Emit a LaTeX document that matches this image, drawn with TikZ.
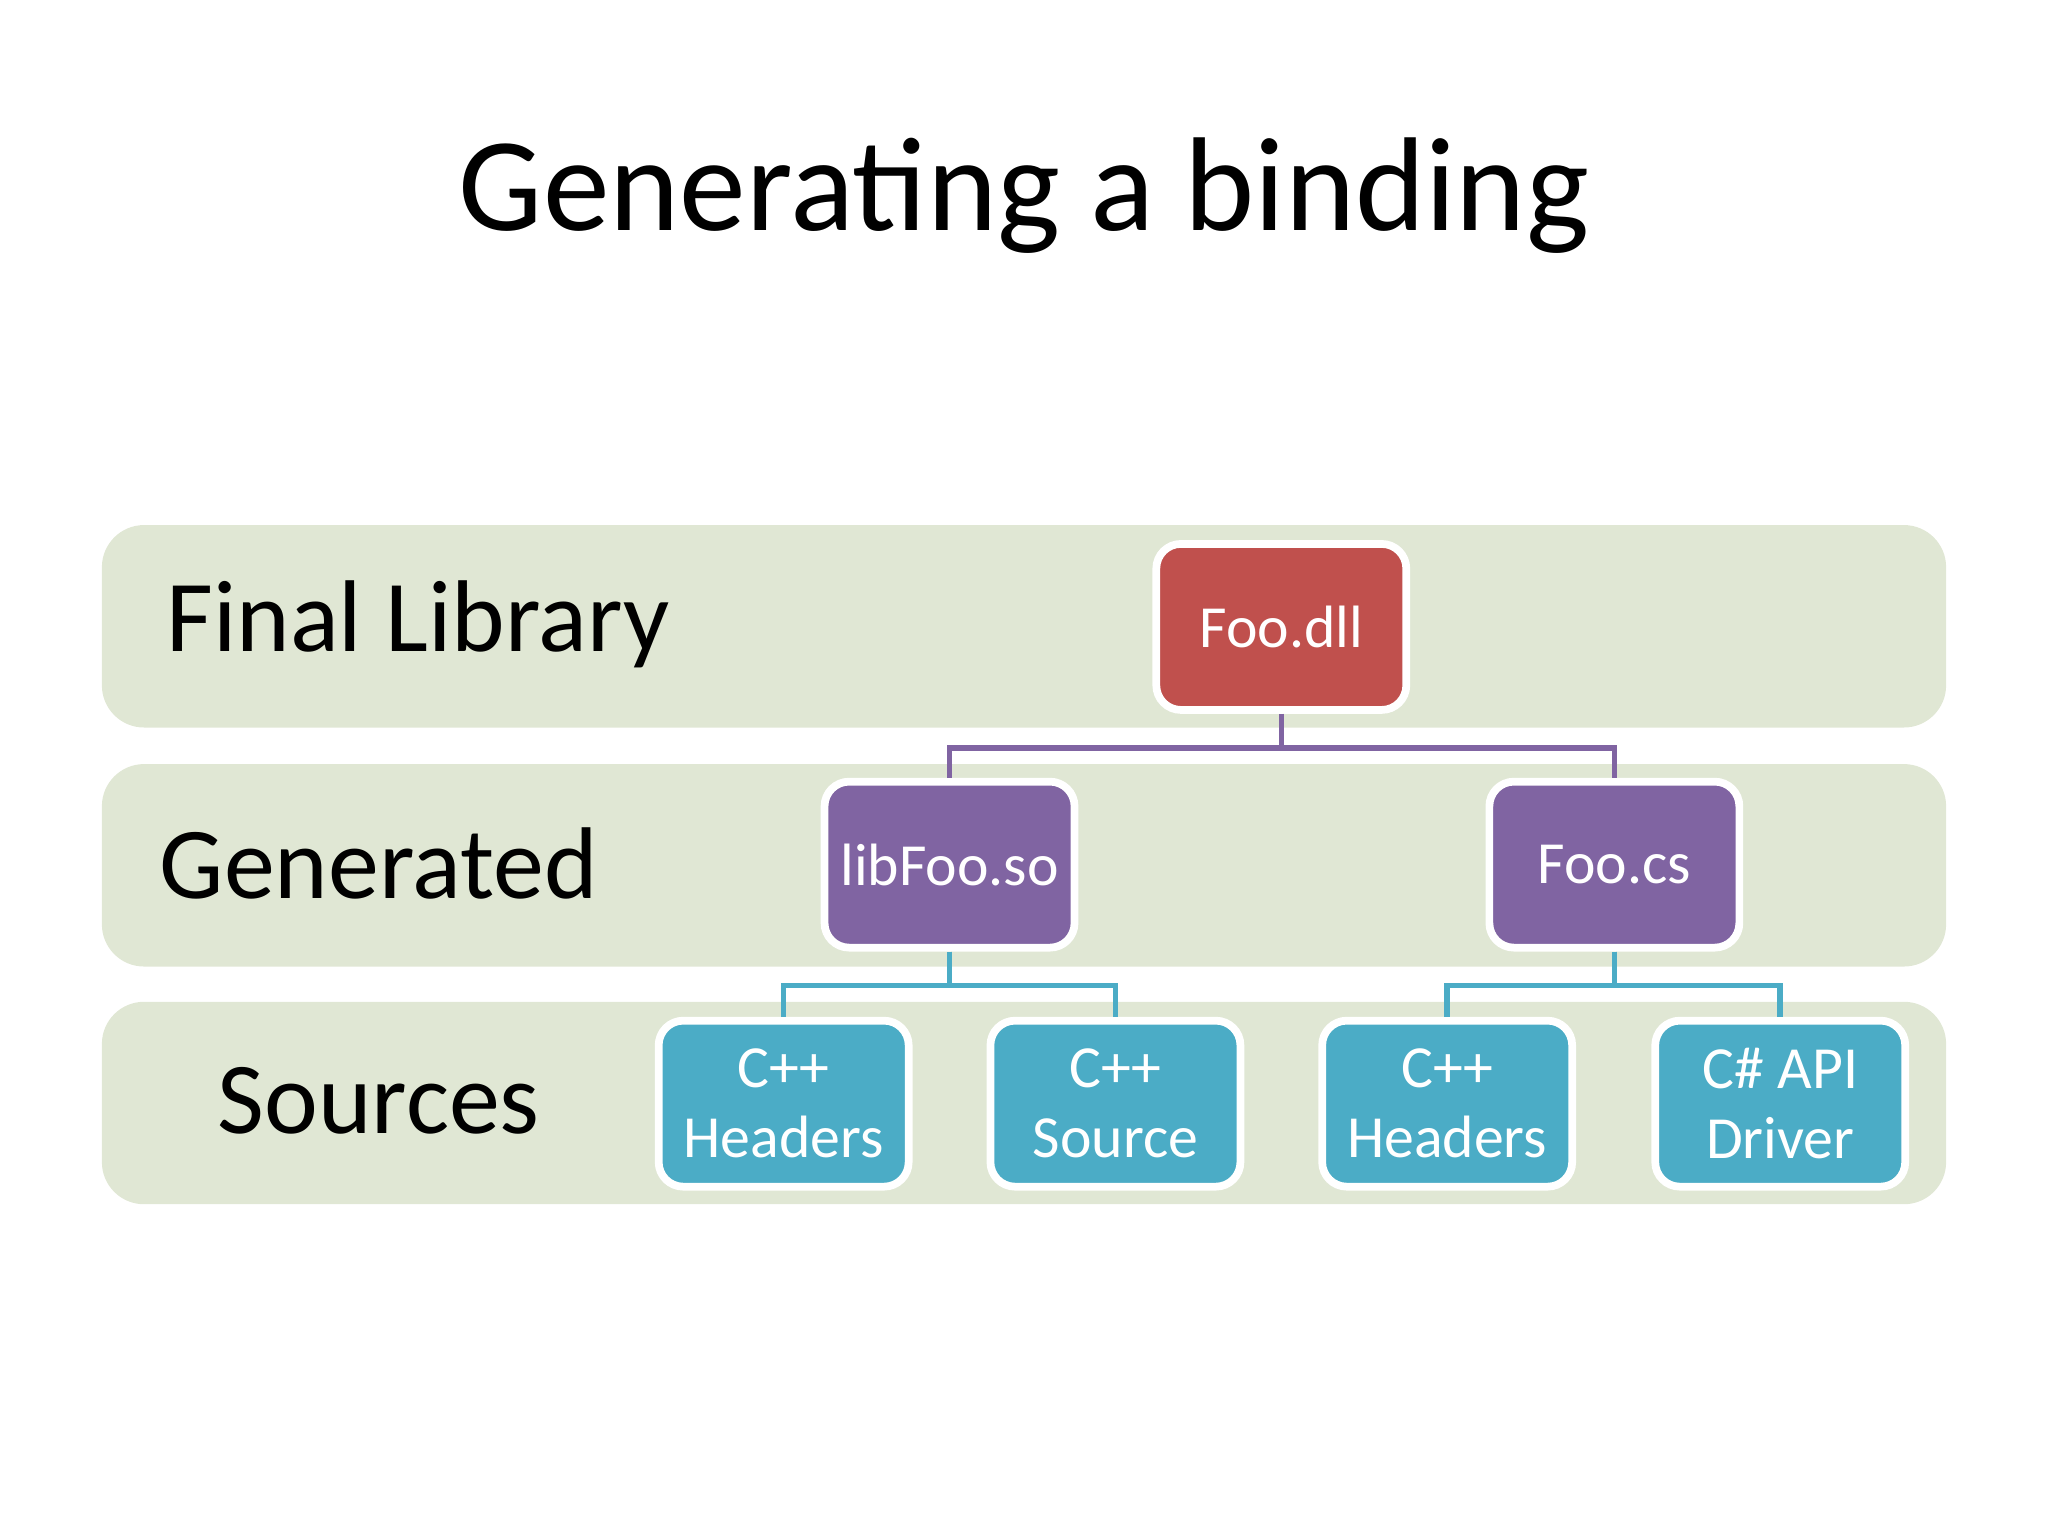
\documentclass[tikz,border=0pt]{standalone}
\usepackage{fontspec}
\setmainfont{Carlito}
\definecolor{band}{HTML}{E0E7D4}
\definecolor{red1}{HTML}{C0504D}
\definecolor{pur}{HTML}{8064A2}
\definecolor{blu}{HTML}{4BACC6}
\begin{document}
\begin{tikzpicture}[x=0.013061cm,y=-0.013061cm,
  band/.style={fill=band,draw=none,rounded corners=12},
  box/.style={draw=white,line width=2.2pt,rounded corners=7,minimum width=2.5cm,minimum height=1.66cm,text=white,font=\fontsize{17}{20}\selectfont,align=center,inner sep=0pt},
  lbl/.style={font=\fontsize{29}{34}\selectfont},
  conp/.style={draw=pur,line width=1.6pt},
  conb/.style={draw=blu,line width=1.6pt}]
\useasboundingbox (0,0) rectangle (1568,1176);
\node[font=\fontsize{38}{44}\selectfont] (title) at (784,150) {Generating a binding};
\path[band] (78,402) rectangle (1490,557);
\path[band] (78,585) rectangle (1490,740);
\path[band] (78,767) rectangle (1490,922);
\node[lbl,anchor=west] (l1) at (118,478) {Final Library};
\node[lbl] (l2) at (290,661) {Generated};
\node[lbl] (l3) at (290,843) {Sources};
\node[box,fill=red1] (dll) at (981,480) {Foo.dll};
\node[box,fill=pur] (so) at (727,662) {libFoo.so};
\node[box,fill=pur] (cs) at (1236,662) {Foo.cs};
\node[box,fill=blu] (s1) at (600,845) {C++\\Headers};
\node[box,fill=blu] (s2) at (854,845) {C++\\Source};
\node[box,fill=blu] (s3) at (1108,845) {C++\\Headers};
\node[box,fill=blu] (s4) at (1363,845) {C\# API\\Driver};
\begin{scope}[on background layer/.style={}]
\draw[conp] (dll.south) -- ++(0,26) -| (so.north);
\draw[conp] (dll.south) -- ++(0,26) -| (cs.north);
\draw[conb] (so.south) -- ++(0,26) -| (s1.north);
\draw[conb] (so.south) -- ++(0,26) -| (s2.north);
\draw[conb] (cs.south) -- ++(0,26) -| (s3.north);
\draw[conb] (cs.south) -- ++(0,26) -| (s4.north);
\end{scope}
\end{tikzpicture}
\end{document}
